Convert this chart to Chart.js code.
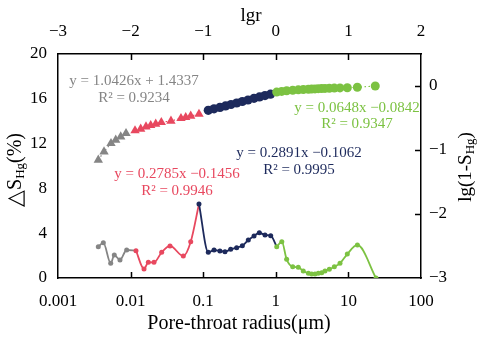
<!DOCTYPE html>
<html><head><meta charset="utf-8">
<script src="https://cdn.jsdelivr.net/npm/chart.js@4.4.1/dist/chart.umd.min.js"></script>
<style>html,body{margin:0;padding:0;background:#fff}</style>
</head><body>
<canvas id="c" width="486" height="341"></canvas>
<script>
// ---------- tick labels ----------
const radiusTicks = [0.001, 0.01, 0.1, 1, 10, 100];
const lgrTicks = [-3, -2, -1, 0, 1, 2];
const deltaTicks = [0, 4, 8, 12, 16, 20];
const lgTicks = [-3, -2, -1, 0];

// ---------- lower curve: pore-throat radius (μm) vs ΔS_Hg (%) ----------
const grayR = [0.00359, 0.00421, 0.00532, 0.00596, 0.00714, 0.00883];
const grayD = [2.79, 3.15, 1.31, 2.05, 1.61, 2.50];
const redR  = [0.01186, 0.01531, 0.01754, 0.0210, 0.0268, 0.0349, 0.0532, 0.0673];
const redD  = [2.44, 0.80, 1.40, 1.40, 2.29, 2.86, 1.96, 3.24];
const navyR = [0.0875, 0.1175, 0.141, 0.170, 0.1995, 0.239, 0.289, 0.346, 0.418, 0.501, 0.593, 0.710, 0.851];
const navyD = [6.61, 2.29, 2.50, 2.41, 2.35, 2.56, 2.71, 2.88, 3.39, 3.75, 4.04, 3.84, 3.78];
const greenR = [1.03, 1.21, 1.41, 1.71, 2.04, 2.39, 2.81, 3.12, 3.47, 3.85, 4.29, 4.76, 5.46, 6.40, 7.66, 9.66, 13.3, 24.0];
const greenD = [2.79, 3.24, 1.67, 1.01, 0.96, 0.63, 0.42, 0.36, 0.36, 0.42, 0.47, 0.63, 0.78, 1.01, 1.31, 2.14, 2.95, 0.0];

// ---------- upper curve: lgr vs lg(1-S_Hg) ----------
const grayLgr = [-2.445, -2.366, -2.270, -2.205, -2.136, -2.063];
const grayLg  = [-1.156, -1.027, -0.895, -0.844, -0.792, -0.739];
const redLgr  = [-1.939, -1.861, -1.788, -1.723, -1.654, -1.577, -1.444, -1.306, -1.241, -1.172, -1.058];
const redLg   = [-0.698, -0.672, -0.636, -0.614, -0.594, -0.567, -0.547, -0.505, -0.489, -0.469, -0.438];
const navyLgr = [-0.930, -0.851, -0.769, -0.693, -0.617, -0.539, -0.461, -0.383, -0.300, -0.225, -0.149, -0.073];
const navyLg  = [-0.380, -0.356, -0.334, -0.311, -0.289, -0.266, -0.242, -0.219, -0.193, -0.171, -0.149, -0.127];
const greenLgr = [0.012, 0.081, 0.150, 0.233, 0.310, 0.379, 0.448, 0.494, 0.540, 0.585, 0.632, 0.678, 0.737, 0.806, 0.884, 0.985, 1.123, 1.370];
const greenLg  = [-0.095, -0.085, -0.075, -0.066, -0.060, -0.055, -0.050, -0.047, -0.045, -0.042, -0.040, -0.038, -0.036, -0.033, -0.030, -0.027, -0.020, 0.000];

// ---------- fitted equations (text) ----------
const eqGray  = ['y = 1.0426x + 1.4337', 'R\u00b2 = 0.9234'];
const eqRed   = ['y = 0.2785x \u22120.1456', 'R\u00b2 = 0.9946'];
const eqNavy  = ['y = 0.2891x \u22120.1062', 'R\u00b2 = 0.9995'];
const eqGreen = ['y = 0.0648x \u22120.0842', 'R\u00b2 = 0.9347'];

const C = { gray:'#858585', red:'#e8485f', navy:'#1d2a5c', green:'#7cc242' };
const FONT = "'Liberation Serif', 'Times New Roman', serif";
const minus = v => (v < 0 ? '\u2212' + Math.abs(v) : String(v));

function pts(xs, ys) { return xs.map((x, i) => ({ x, y: ys[i] })); }

// lower series: each line continues to the first point of the next series
function lower(xs, ys, nx, ny, color) {
  const data = pts(xs, ys);
  const radii = xs.map(() => 2.5);
  if (nx !== undefined) { data.push({ x: nx, y: ny }); radii.push(0); }
  return { data, xAxisID: 'x', yAxisID: 'y', borderColor: color, backgroundColor: color,
    pointBackgroundColor: color, pointBorderWidth: 0, pointRadius: radii, pointHoverRadius: radii,
    borderWidth: 1.8, showLine: true, tension: 0.35, cubicInterpolationMode: 'monotone' };
}
function upper(xs, ys, color, style, r) {
  return { data: pts(xs, ys), xAxisID: 'xTop', yAxisID: 'yR', borderColor: color, backgroundColor: color,
    pointStyle: style, pointRadius: r, pointHoverRadius: r, pointBorderWidth: 0,
    showLine: true, borderWidth: 1.2, borderDash: [1.5, 2.5] };
}

const datasets = [
  upper(greenLgr, greenLg, C.green, 'circle', 4.5),
  upper(navyLgr, navyLg, C.navy, 'circle', 4.6),
  upper(redLgr, redLg, C.red, 'triangle', 5.4),
  upper(grayLgr, grayLg, C.gray, 'triangle', 5.4),
  lower(greenR, greenD, undefined, undefined, C.green),
  lower(navyR, navyD, greenR[0], greenD[0], C.navy),
  lower(redR, redD, navyR[0], navyD[0], C.red),
  lower(grayR, grayD, redR[0], redD[0], C.gray)
];

const tickFont = { family: FONT, size: 17 };
const border = { display: true, color: '#000', width: 1.5 };

const overlay = {
  id: 'overlay',
  afterDraw(chart) {
    const { ctx, chartArea: a, scales } = chart;
    ctx.save();
    // inward tick marks
    ctx.strokeStyle = '#000'; ctx.lineWidth = 1.5;
    ctx.beginPath();
    radiusTicks.slice(1, -1).forEach(v => { const p = Math.round(scales.x.getPixelForValue(v)) + 0.5; ctx.moveTo(p, a.bottom); ctx.lineTo(p, a.bottom - 6); });
    lgrTicks.slice(1, -1).forEach(v => { const p = Math.round(scales.xTop.getPixelForValue(v)) + 0.5; ctx.moveTo(p, a.top); ctx.lineTo(p, a.top + 6); });
    lgTicks.slice(1).forEach(v => { const p = Math.round(scales.yR.getPixelForValue(v)) + 0.5; ctx.moveTo(a.right, p); ctx.lineTo(a.right - 6, p); });
    ctx.stroke();

    // equations
    ctx.font = '15px ' + FONT; ctx.textAlign = 'center'; ctx.textBaseline = 'alphabetic';
    const eq = (lines, color, x, y1, y2) => { ctx.fillStyle = color; ctx.fillText(lines[0], x, y1); ctx.fillText(lines[1], x, y2); };
    eq(eqGray, C.gray, 134, 85, 102);
    eq(eqGreen, C.green, 357, 112, 128);
    eq(eqNavy, C.navy, 299, 157, 174);
    eq(eqRed, C.red, 177, 178, 195);

    // axis titles
    ctx.fillStyle = '#000';
    ctx.font = '20px ' + FONT; ctx.textAlign = 'center';
    ctx.fillText('Pore-throat radius(\u03bcm)', 239, 329);
    ctx.font = '19px ' + FONT;
    ctx.fillText('lgr', 251, 21);

    function subTitle(parts, cx, cy) {
      ctx.save();
      ctx.translate(cx, cy); ctx.rotate(-Math.PI / 2);
      ctx.textAlign = 'left'; ctx.textBaseline = 'middle';
      const widths = parts.map(p => { ctx.font = p.size + 'px ' + FONT; return ctx.measureText(p.t).width; });
      let x = -widths.reduce((s, w) => s + w, 0) / 2;
      parts.forEach((p, i) => { ctx.font = p.size + 'px ' + FONT; ctx.fillText(p.t, x, p.dy || 0); x += widths[i]; });
      ctx.restore();
    }
    subTitle([{ t: '\u25b3', size: 22 }, { t: 'S', size: 20 }, { t: 'Hg', size: 13, dy: 5 }, { t: '(%)', size: 20 }], 16, 170);
    subTitle([{ t: 'lg(1-S', size: 19 }, { t: 'Hg', size: 13, dy: 5 }, { t: ')', size: 19 }], 466, 167);
    ctx.restore();
  }
};

new Chart(document.getElementById('c'), {
  type: 'scatter',
  data: { datasets },
  options: {
    responsive: false, animation: false, devicePixelRatio: 1,
    layout: { padding: 0 },
    plugins: { legend: { display: false }, tooltip: { enabled: false } },
    scales: {
      x: { type: 'logarithmic', position: 'bottom', min: radiusTicks[0], max: radiusTicks[radiusTicks.length - 1],
        afterBuildTicks: s => { s.ticks = radiusTicks.map(v => ({ value: v })); },
        afterFit: s => { s.height = 63; },
        grid: { display: false, drawTicks: false }, border,
        ticks: { padding: 13, font: tickFont, color: '#000', autoSkip: false, maxRotation: 0, callback: v => String(v) } },
      xTop: { type: 'linear', position: 'top', min: lgrTicks[0], max: lgrTicks[lgrTicks.length - 1],
        afterBuildTicks: s => { s.ticks = lgrTicks.map(v => ({ value: v })); },
        afterFit: s => { s.height = 54; },
        grid: { display: false, drawTicks: false }, border,
        ticks: { padding: 12, font: tickFont, color: '#000', autoSkip: false, maxRotation: 0, callback: v => minus(v) } },
      y: { type: 'linear', position: 'left', min: 0, max: 20,
        afterBuildTicks: s => { s.ticks = deltaTicks.map(v => ({ value: v })); },
        afterFit: s => { s.width = 58; },
        grid: { display: false, drawTicks: false }, border,
        ticks: { padding: 11, font: tickFont, color: '#000', callback: v => String(v) } },
      yR: { type: 'linear', position: 'right', min: -3, max: 0.5,
        afterBuildTicks: s => { s.ticks = lgTicks.map(v => ({ value: v })); },
        afterFit: s => { s.width = 65; },
        grid: { display: false, drawTicks: false }, border,
        ticks: { padding: 8, font: tickFont, color: '#000', callback: v => minus(v) } }
    }
  },
  plugins: [overlay]
});
</script>
</body></html>
